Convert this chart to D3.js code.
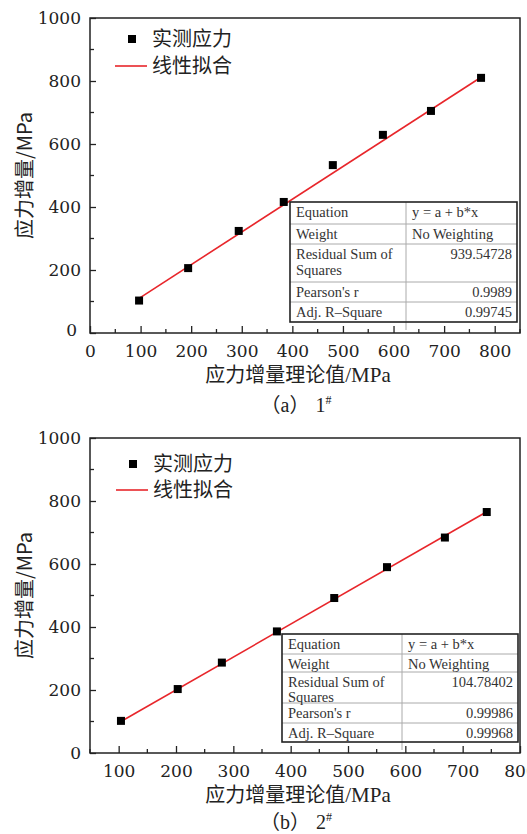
<!DOCTYPE html>
<html>
<head>
<meta charset="utf-8">
<script src="https://cdn.jsdelivr.net/npm/d3@7"></script>
<style>
  html, body { margin: 0; padding: 0; background: #fff; }
  svg { display: block; }
</style>
</head>
<body>
<svg id="chart" width="527" height="834"></svg>
<script>
// panel (a) 1#
const theoryA = [97, 194, 294, 383, 480, 579, 674, 773];
const measuredA = [103, 206, 324, 416, 533, 629, 705, 810];
const fitXA = [97, 773];
const fitYA = [110, 812];
const statsA = ["y = a + b*x", "No Weighting", "939.54728", "0.9989", "0.99745"];

// panel (b) 2#
const theoryB = [104, 203, 280, 376, 476, 568, 669, 742];
const measuredB = [102, 203, 287, 386, 492, 590, 684, 765];
const fitXB = [104, 742];
const fitYB = [100, 766];
const statsB = ["y = a + b*x", "No Weighting", "104.78402", "0.99986", "0.99968"];

const statLabels = ["Equation", "Weight", "Residual Sum of|Squares", "Pearson's r", "Adj. R\u2013Square"];
const legendLabels = ["实测应力", "线性拟合"];
const xTitle = ["应力增量理论值", "/MPa"];
const yTitle = "应力增量/MPa";

const serif = "Liberation Serif";
const tickFont = "DejaVu Serif";
const cjk = "Noto Sans CJK SC";
const ink = "#222";

const svg = d3.select('#chart');

function drawPanel(opt) {
  const g = svg.append('g');
  const x = d3.scaleLinear().domain(opt.xDomain).range([90, 520]);
  const y = d3.scaleLinear().domain([0, 1000]).range([opt.bottom, opt.top]);

  // frame
  g.append('rect')
    .attr('x', 90).attr('y', opt.top)
    .attr('width', 430).attr('height', opt.bottom - opt.top)
    .attr('fill', '#fff')
    .attr('stroke', ink).attr('stroke-width', 1.5);

  // x axis ticks (inward)
  const xMinor = d3.range(opt.xDomain[0], opt.xDomain[1] + 1, 50).filter(v => v % 100 !== 0);
  const xAxis = d3.axisBottom(x).tickValues(opt.xTicks).tickSize(-7).tickPadding(12).tickFormat(d3.format('d'));
  const xa = g.append('g').attr('transform', `translate(0,${opt.bottom})`).call(xAxis);
  xa.attr('font-family', tickFont).attr('font-size', 17);
  xa.select('.domain').remove();
  xa.selectAll('.tick line').attr('stroke', ink).attr('stroke-width', 1.3);
  xa.selectAll('.tick text').attr('fill', ink);
  g.append('g').selectAll('line').data(xMinor).join('line')
    .attr('x1', d => x(d)).attr('x2', d => x(d))
    .attr('y1', opt.bottom).attr('y2', opt.bottom - 4)
    .attr('stroke', ink).attr('stroke-width', 1.3);

  // y axis ticks (inward)
  const yAxis = d3.axisLeft(y).tickValues(d3.range(0, 1001, 200)).tickSize(-6).tickPadding(9).tickFormat(d3.format('d'));
  const ya = g.append('g').attr('transform', 'translate(90,0)').call(yAxis);
  ya.attr('font-family', tickFont).attr('font-size', 17);
  ya.select('.domain').remove();
  ya.selectAll('.tick line').attr('stroke', ink).attr('stroke-width', 1.3);
  ya.selectAll('.tick text').attr('fill', ink);
  if (opt.raiseZero) {
    ya.selectAll('.tick').filter(d => d === 0).select('text').attr('dy', '0.15em').attr('x', -13);
  }
  g.append('g').selectAll('line').data(d3.range(100, 1000, 200)).join('line')
    .attr('x1', 90).attr('x2', 94)
    .attr('y1', d => y(d)).attr('y2', d => y(d))
    .attr('stroke', ink).attr('stroke-width', 1.3);

  // fit line
  g.append('line')
    .attr('x1', x(opt.fitX[0])).attr('y1', y(opt.fitY[0]))
    .attr('x2', x(opt.fitX[1])).attr('y2', y(opt.fitY[1]))
    .attr('stroke', '#e8262b').attr('stroke-width', 1.6);

  // points
  const pts = opt.xs.map((v, i) => [v, opt.ys[i]]);
  g.append('g').selectAll('rect').data(pts).join('rect')
    .attr('x', d => x(d[0]) - 4).attr('y', d => y(d[1]) - 4)
    .attr('width', 8).attr('height', 8)
    .attr('fill', '#000');

  // legend
  const lg = g.append('g');
  lg.append('rect')
    .attr('x', opt.legend[0] - 4).attr('y', opt.legend[1] - 4)
    .attr('width', 8).attr('height', 8).attr('fill', '#000');
  lg.append('line')
    .attr('x1', opt.legend[0] - 17).attr('x2', opt.legend[0] + 15)
    .attr('y1', opt.legend[1] + opt.legendGap).attr('y2', opt.legend[1] + opt.legendGap)
    .attr('stroke', '#e8262b').attr('stroke-width', 1.6);
  legendLabels.forEach((t, i) => {
    lg.append('text')
      .attr('x', opt.legend[0] + 20).attr('y', opt.legend[1] + i * opt.legendGap)
      .attr('dy', '0.36em')
      .attr('font-family', cjk).attr('font-size', 20).attr('fill', ink)
      .text(t);
  });

  // statistics table
  const tb = opt.table;
  const tg = g.append('g');
  tg.append('rect').attr('x', tb.x0).attr('y', tb.rows[0])
    .attr('width', tb.x1 - tb.x0).attr('height', tb.rows[tb.rows.length - 1] - tb.rows[0])
    .attr('fill', '#fff');
  tg.selectAll('line.r').data(tb.rows.slice(1, -1)).join('line')
    .attr('x1', tb.x0).attr('x2', tb.x1).attr('y1', d => d).attr('y2', d => d)
    .attr('stroke', '#aaa').attr('stroke-width', 1);
  tg.append('line').attr('x1', tb.xm).attr('x2', tb.xm)
    .attr('y1', tb.rows[0]).attr('y2', tb.rows[tb.rows.length - 1] + 8)
    .attr('stroke', '#aaa').attr('stroke-width', 1);
  tg.append('rect').attr('x', tb.x0).attr('y', tb.rows[0])
    .attr('width', tb.x1 - tb.x0).attr('height', tb.rows[tb.rows.length - 1] - tb.rows[0])
    .attr('fill', 'none').attr('stroke', ink).attr('stroke-width', 1.6);
  statLabels.forEach((lab, i) => {
    const top = tb.rows[i];
    const parts = lab.split('|');
    parts.forEach((p, j) => {
      tg.append('text')
        .attr('x', tb.x0 + 6).attr('y', top + 15 + j * tb.line)
        .attr('font-family', serif).attr('font-size', tb.fs).attr('fill', '#333')
        .text(p);
    });
    const right = i >= 2;
    tg.append('text')
      .attr('x', right ? tb.x1 - 5 : tb.xm + 6).attr('y', top + 15)
      .attr('text-anchor', right ? 'end' : 'start')
      .attr('font-family', serif).attr('font-size', tb.fs).attr('fill', '#333')
      .text(opt.stats[i]);
  });

  // axis titles
  g.append('text')
    .attr('transform', `translate(25,${(opt.top + opt.bottom) / 2}) rotate(-90)`)
    .attr('text-anchor', 'middle').attr('dy', '0.35em')
    .attr('font-family', cjk).attr('font-size', 20).attr('fill', ink)
    .text(yTitle);
  const xt = g.append('text')
    .attr('x', 298).attr('y', opt.bottom + 42)
    .attr('text-anchor', 'middle').attr('dy', '0.35em')
    .attr('font-family', cjk).attr('font-size', 20).attr('fill', ink);
  xt.append('tspan').text(xTitle[0]);
  xt.append('tspan').attr('font-family', serif).attr('font-size', 21).text(xTitle[1]);

  // caption
  const cap = g.append('text')
    .attr('x', 296).attr('y', opt.bottom + opt.capOffset)
    .attr('text-anchor', 'middle').attr('dy', '0.35em')
    .attr('font-family', serif).attr('font-size', 20).attr('fill', ink);
  cap.append('tspan').attr('font-family', cjk).text('（');
  cap.append('tspan').text(opt.caption[0]);
  cap.append('tspan').attr('font-family', cjk).text('）');
  cap.append('tspan').attr('dx', 6).text(opt.caption[1]);
  cap.append('tspan').attr('font-size', 12).attr('dy', '-0.7em').text('#');
}

drawPanel({
  top: 18, bottom: 333, xDomain: [0, 850], xTicks: d3.range(0, 801, 100),
  xs: theoryA, ys: measuredA, fitX: fitXA, fitY: fitYA, stats: statsA,
  legend: [132, 39], legendGap: 27, raiseZero: true, capOffset: 72,
  table: { x0: 290, xm: 406, x1: 517, rows: [202, 224, 244, 282, 302, 322], fs: 14.5, line: 16 },
  caption: ['a', '1']
});

drawPanel({
  top: 438, bottom: 753, xDomain: [50, 800], xTicks: d3.range(100, 801, 100),
  xs: theoryB, ys: measuredB, fitX: fitXB, fitY: fitYB, stats: statsB,
  legend: [133, 464], legendGap: 26, raiseZero: false, capOffset: 69,
  table: { x0: 282, xm: 402, x1: 518, rows: [634, 654, 672, 703, 723, 742], fs: 14.5, line: 15 },
  caption: ['b', '2']
});
</script>
</body>
</html>
